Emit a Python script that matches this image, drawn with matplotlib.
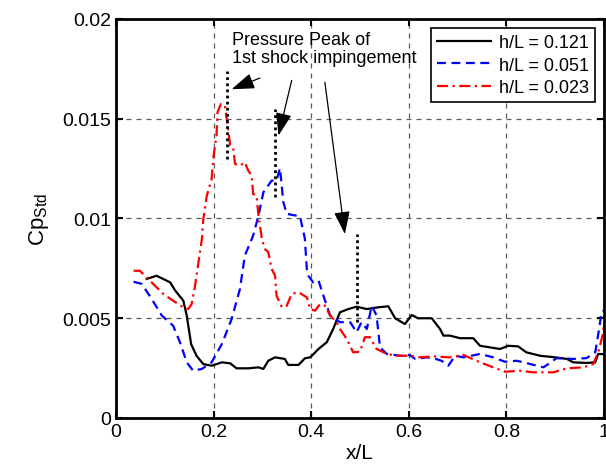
import matplotlib
matplotlib.use("Agg")
import matplotlib.pyplot as plt

plt.rcParams.update({
    "font.family": ["Liberation Sans", "DejaVu Sans"],
    "font.size": 14,
    "mathtext.fontset": "custom",
    "mathtext.rm": "Liberation Sans",
})

# h/L = 0.121 (solid black)
x_121 = [0.063, 0.083, 0.111, 0.121, 0.138, 0.145, 0.154, 0.165, 0.179, 0.196,
         0.217, 0.234, 0.247, 0.271, 0.292, 0.302, 0.312, 0.326, 0.346, 0.353,
         0.374, 0.387, 0.398, 0.415, 0.432, 0.445, 0.459, 0.476, 0.493, 0.514,
         0.538, 0.558, 0.572, 0.592, 0.606, 0.619, 0.647, 0.664, 0.671, 0.684,
         0.705, 0.732, 0.746, 0.766, 0.787, 0.804, 0.824, 0.841, 0.869, 0.900,
         0.924, 0.937, 0.964, 0.982, 0.988, 1.000]
cp_121 = [0.00697, 0.00713, 0.00680, 0.00640, 0.00588, 0.00513, 0.00370, 0.00312, 0.00270, 0.00262,
          0.00279, 0.00274, 0.00249, 0.00249, 0.00254, 0.00246, 0.00287, 0.00304, 0.00296, 0.00266,
          0.00266, 0.00299, 0.00304, 0.00346, 0.00380, 0.00446, 0.00530, 0.00546, 0.00558, 0.00546,
          0.00555, 0.00560, 0.00500, 0.00471, 0.00516, 0.00500, 0.00500, 0.00446, 0.00413, 0.00413,
          0.00400, 0.00400, 0.00362, 0.00354, 0.00346, 0.00362, 0.00359, 0.00329, 0.00312, 0.00304,
          0.00296, 0.00279, 0.00276, 0.00279, 0.00321, 0.00320]

# h/L = 0.051 (blue dashed)
x_051 = [0.036, 0.053, 0.073, 0.094, 0.117, 0.131, 0.145, 0.158, 0.176, 0.196,
         0.217, 0.237, 0.254, 0.264, 0.281, 0.292, 0.302, 0.319, 0.329, 0.336,
         0.343, 0.350, 0.377, 0.387, 0.391, 0.394, 0.404, 0.415, 0.425, 0.439,
         0.459, 0.480, 0.493, 0.503, 0.514, 0.524, 0.534, 0.541, 0.555, 0.582,
         0.602, 0.613, 0.637, 0.650, 0.667, 0.681, 0.695, 0.712, 0.746, 0.773,
         0.797, 0.821, 0.848, 0.876, 0.903, 0.937, 0.964, 0.982, 0.990, 0.995, 1.000]
cp_051 = [0.00683, 0.00672, 0.00597, 0.00513, 0.00463, 0.00380, 0.00279, 0.00237, 0.00246, 0.00279,
          0.00371, 0.00496, 0.00647, 0.00814, 0.00914, 0.01014, 0.01131, 0.01190, 0.01190, 0.01252,
          0.01081, 0.01023, 0.01011, 0.00900, 0.00747, 0.00713, 0.00680, 0.00689, 0.00613, 0.00513,
          0.00480, 0.00480, 0.00430, 0.00480, 0.00446, 0.00563, 0.00513, 0.00354, 0.00321, 0.00312,
          0.00316, 0.00296, 0.00304, 0.00300, 0.00287, 0.00262, 0.00312, 0.00304, 0.00321, 0.00304,
          0.00282, 0.00287, 0.00271, 0.00254, 0.00300, 0.00296, 0.00300, 0.00329, 0.00446, 0.00533, 0.00538]

# h/L = 0.023 (red dash-dot)
x_023 = [0.036, 0.049, 0.066, 0.080, 0.097, 0.117, 0.138, 0.148, 0.155, 0.162,
         0.169, 0.176, 0.179, 0.186, 0.196, 0.200, 0.206, 0.208, 0.215, 0.223,
         0.229, 0.234, 0.240, 0.244, 0.254, 0.264, 0.271, 0.278, 0.281, 0.288,
         0.292, 0.299, 0.305, 0.312, 0.319, 0.326, 0.329, 0.340, 0.350, 0.360,
         0.374, 0.391, 0.398, 0.408, 0.418, 0.428, 0.439, 0.452, 0.459, 0.473,
         0.486, 0.500, 0.510, 0.520, 0.534, 0.555, 0.575, 0.602, 0.623, 0.650,
         0.684, 0.712, 0.746, 0.773, 0.797, 0.828, 0.855, 0.896, 0.924, 0.958,
         0.978, 0.988, 0.997, 1.000]
cp_023 = [0.00738, 0.00738, 0.00697, 0.00663, 0.00622, 0.00588, 0.00555, 0.00546, 0.00571, 0.00663,
          0.00780, 0.00897, 0.00998, 0.01114, 0.01198, 0.01315, 0.01415, 0.01532, 0.01574, 0.01566,
          0.01465, 0.01365, 0.01357, 0.01273, 0.01265, 0.01282, 0.01240, 0.01215, 0.01123, 0.01114,
          0.01014, 0.00897, 0.00847, 0.00831, 0.00747, 0.00713, 0.00613, 0.00555, 0.00563, 0.00622,
          0.00630, 0.00605, 0.00546, 0.00538, 0.00571, 0.00563, 0.00513, 0.00480, 0.00446, 0.00396,
          0.00329, 0.00332, 0.00405, 0.00405, 0.00346, 0.00321, 0.00312, 0.00312, 0.00304, 0.00309,
          0.00304, 0.00316, 0.00279, 0.00254, 0.00232, 0.00237, 0.00229, 0.00229, 0.00249, 0.00254,
          0.00271, 0.00329, 0.00413, 0.00471]

# peak markers: x, y_bottom, y_top
peak_x = [0.227, 0.326, 0.493]
peak_lo = [0.0130, 0.0111, 0.0048]
peak_hi = [0.0174, 0.0155, 0.0092]
arrow_tail = [(0.295, 0.01704), (0.360, 0.01692), (0.428, 0.01683)]
arrow_tip = [(0.237, 0.01648), (0.333, 0.01416), (0.469, 0.00922)]

fig = plt.figure(figsize=(6.06, 4.77), dpi=100)
ax = fig.add_axes([0.1914, 0.1216, 0.8053, 0.8365])

ax.plot(x_121, cp_121, color="black", linewidth=1.6, linestyle="-", label="h/L = 0.121")
ax.plot(x_051, cp_051, color="blue", linewidth=1.6, linestyle=(0, (4, 2.5)), label="h/L = 0.051")
ax.plot(x_023, cp_023, color="red", linewidth=1.6, linestyle=(0, (5, 2, 1, 2)), label="h/L = 0.023")

for px, lo, hi in zip(peak_x, peak_lo, peak_hi):
    ax.plot([px, px], [lo, hi], color="black", linestyle=(0, (1, 1.2)), linewidth=2)

for tail, tip in zip(arrow_tail, arrow_tip):
    ax.annotate("", xy=tip, xytext=tail,
                arrowprops=dict(arrowstyle="-|>,head_length=1.0,head_width=0.35",
                                color="black", linewidth=0.9, shrinkA=0, shrinkB=0))

ax.text(0.237, 0.0194, "Pressure Peak of\n1st shock impingement", fontsize=13,
        va="top", ha="left", linespacing=1.05)

ax.set_xlim(0, 1)
ax.set_ylim(0, 0.02)
ax.set_xticks([0, 0.2, 0.4, 0.6, 0.8, 1])
ax.set_xticklabels(["0", "0.2", "0.4", "0.6", "0.8", "1"])
ax.set_yticks([0, 0.005, 0.01, 0.015, 0.02])
ax.set_yticklabels(["0", "0.005", "0.01", "0.015", "0.02"])
ax.grid(True, color="0.35", linestyle=(0, (4, 4)), linewidth=0.9)
ax.tick_params(direction="in", length=5, width=1.5, top=True, right=True, labelsize=14)
for s in ax.spines.values():
    s.set_linewidth(2)

ax.set_xlabel("x/L", fontsize=15, labelpad=2)
ax.set_ylabel(r"Cp$_{\rm Std}$", fontsize=16, labelpad=8)

ax.legend(loc="upper right", fontsize=13, frameon=True, fancybox=False,
          edgecolor="black", framealpha=1, handlelength=3.0, borderaxespad=0.5,
          labelspacing=0.3, handletextpad=0.4, borderpad=0.35).get_frame().set_linewidth(1.2)

fig.savefig("out.png", dpi=100)
